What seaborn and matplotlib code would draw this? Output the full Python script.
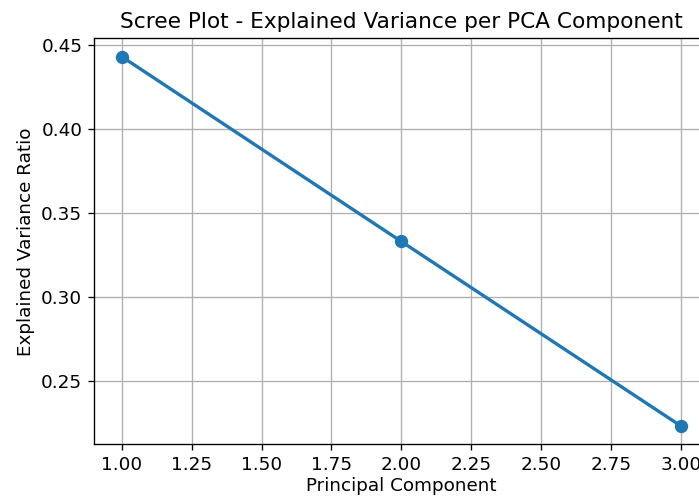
import matplotlib
matplotlib.use("Agg")
import matplotlib.pyplot as plt
import seaborn as sns
import pandas as pd

components = [1, 2, 3]
explained_variance = [0.4430, 0.3332, 0.2236]

df = pd.DataFrame({"Principal Component": components,
                   "Explained Variance Ratio": explained_variance})

plt.rcParams['font.family'] = ['DejaVu Sans']
W, H = 699, 501
DPI = 120
fig = plt.figure(figsize=(W / DPI, H / DPI), dpi=DPI)
left, right, top, bottom = 94, 708.6, 38.3, 444.3
ax = fig.add_axes([left / W, 1 - bottom / H, (right - left) / W, (bottom - top) / H])

sns.lineplot(data=df, x="Principal Component", y="Explained Variance Ratio",
             marker="o", markersize=8, markeredgewidth=0, linewidth=2,
             color="#1f77b4", ax=ax)
ax.grid(True)
ax.set_axisbelow(True)
ax.tick_params(labelsize=11)
ax.set_title("Scree Plot - Explained Variance per PCA Component", fontsize=13)
ax.set_xlabel("Principal Component", fontsize=11, labelpad=2)
ax.set_ylabel("Explained Variance Ratio", fontsize=11)

fig.savefig("out.png", dpi=DPI)
